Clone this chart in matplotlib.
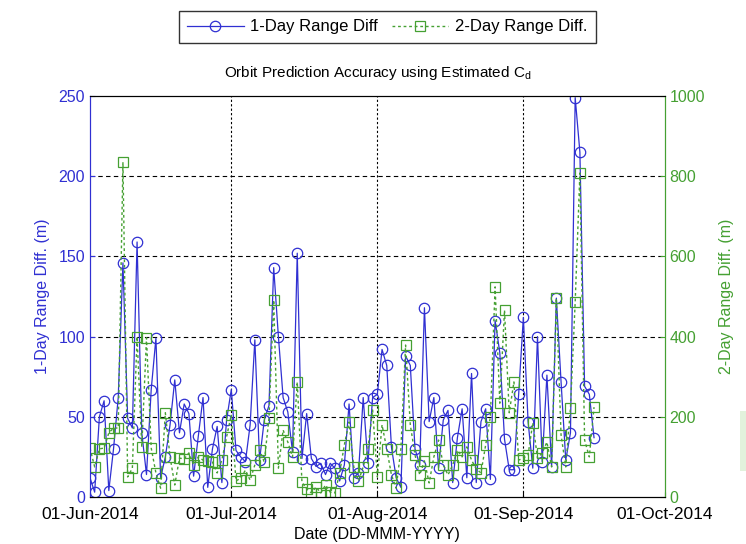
import numpy as np
import pandas as pd
import matplotlib
matplotlib.use("Agg")
import matplotlib.pyplot as plt
import matplotlib.dates as mdates
from matplotlib.patches import Rectangle

plt.rcParams["font.family"] = ["Liberation Sans", "DejaVu Sans"]
plt.rcParams["mathtext.default"] = "regular"

# daily values, 01-Jun-2014 onwards
start_date = "2014-06-01"
range_1day = [12, 3, 50, 60, 4, 30, 62, 146, 49, 43,
              159, 40, 14, 67, 99, 12, 25, 45, 73, 40,
              58, 52, 13, 38, 62, 6, 30, 44, 9, 48,
              67, 29, 25, 22, 45, 98, 23, 48, 57, 143,
              100, 62, 53, 28, 152, 24, 52, 24, 19, 21,
              14, 21, 18, 10, 20, 58, 12, 15, 62, 21,
              62, 64, 92, 82, 31, 12, 6, 88, 82, 30,
              20, 118, 47, 62, 18, 48, 54, 9, 37, 55,
              12, 77, 9, 47, 55, 11, 110, 90, 36, 17,
              17, 64, 112, 47, 18, 100, 22, 76, 19, 124,
              72, 23, 40, 249, 215, 69, 64, 37]
range_2day = [122, 75, 120, 122, 160, 172, 172, 835, 50, 72,
              400, 125, 397, 122, 60, 22, 210, 100, 30, 97,
              95, 110, 80, 100, 92, 90, 87, 60, 92, 150,
              205, 40, 47, 67, 42, 80, 117, 87, 197, 491,
              72, 167, 137, 100, 287, 37, 20, 10, 25, 10,
              30, 12, 10, 60, 130, 187, 75, 40, 75, 120,
              217, 50, 180, 120, 55, 22, 120, 379, 180, 105,
              55, 90, 35, 100, 142, 80, 55, 80, 117, 100,
              125, 92, 70, 60, 130, 200, 524, 234, 466, 210,
              287, 92, 97, 105, 185, 97, 110, 137, 75, 496,
              155, 75, 222, 486, 808, 142, 100, 224]
month_ticks = ["2014-06-01", "2014-07-01", "2014-08-01", "2014-09-01", "2014-10-01"]

dates = pd.date_range(start_date, periods=len(range_1day), freq="D")
ticks = pd.to_datetime(month_ticks)

blue = "#3030d2"
green = "#45a032"

fig = plt.figure(figsize=(7.46, 5.44), dpi=100)
# faint green patch at the right edge of the original picture
fig.patches.append(Rectangle((0.992, 0.135), 0.008, 0.11, transform=fig.transFigure,
                             facecolor="#e2f2dc", edgecolor="none"))
ax1 = fig.add_axes([0.1206, 0.0864, 0.7704, 0.7371])
ax2 = ax1.twinx()

ax1.plot(dates, range_1day, "-", color=blue, lw=0.9, marker="o", ms=7.5,
         mfc="none", mec=blue, mew=0.9, label="1-Day Range Diff")
ax2.plot(dates, range_2day, color=green, lw=1.0, ls=(0, (2, 2)), marker="s", ms=7,
         mfc="none", mec=green, mew=0.9, label="2-Day Range Diff.")

ax1.set_xlim(ticks[0], ticks[-1])
ax1.set_ylim(0, 250)
ax2.set_ylim(0, 1000)
ax1.set_yticks(np.arange(0, 251, 50))
ax2.set_yticks(np.arange(0, 1001, 200))
ax1.set_xticks(ticks)
ax1.xaxis.set_major_formatter(mdates.DateFormatter("%d-%b-%Y"))

ax1.tick_params(axis="x", direction="in", labelsize=12.5, pad=7, colors="black")
ax1.tick_params(axis="y", direction="in", labelsize=11.5, colors=blue)
ax2.tick_params(axis="y", direction="in", labelsize=11.5, colors=green)

for y in [50, 100, 150, 200]:
    ax1.axhline(y, color="black", lw=0.8, ls=(0, (4, 3)), zorder=0)
for t in ticks[1:-1]:
    ax1.axvline(t, color="black", lw=0.8, ls=(0, (2, 2)), zorder=0)

ax2.spines["left"].set_color(blue)
ax2.spines["right"].set_color(green)
ax1.spines["left"].set_color(blue)
ax1.spines["right"].set_color(green)

ax1.set_ylabel("1-Day Range Diff. (m)", color=blue, fontsize=11.5, labelpad=6)
ax2.set_ylabel("2-Day Range Diff. (m)", color=green, fontsize=11.5, rotation=90, labelpad=10)
ax1.set_xlabel("Date (DD-MMM-YYYY)", fontsize=11.5, labelpad=4)
ax1.set_title("Orbit Prediction Accuracy using Estimated C$_{d}$", fontsize=11, pad=14)

h1, l1 = ax1.get_legend_handles_labels()
h2, l2 = ax2.get_legend_handles_labels()
leg = fig.legend(h1 + h2, l1 + l2, loc="upper center", bbox_to_anchor=(0.519, 0.995),
                 ncol=2, fontsize=12, frameon=True, fancybox=False, edgecolor="black",
                 handlelength=3.4, columnspacing=0.8, handletextpad=0.4, borderpad=0.5)
leg.get_frame().set_linewidth(1.0)

fig.savefig("out.png", dpi=100)
